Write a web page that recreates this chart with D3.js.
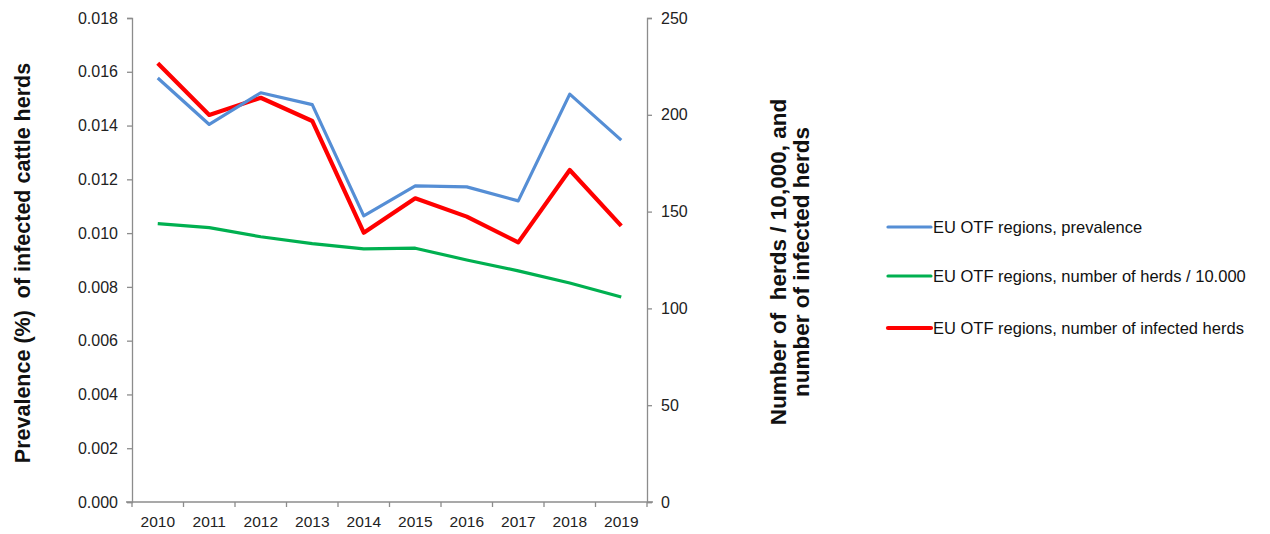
<!DOCTYPE html>
<html><head><meta charset="utf-8">
<script src="https://cdn.jsdelivr.net/npm/d3@7"></script>
<style>body{margin:0;background:#fff;font-family:"Liberation Sans",Arial,sans-serif;} text{white-space:pre;}</style>
</head><body><svg id="c" width="1270" height="534"></svg>
<script>
const years = ["2010","2011","2012","2013","2014","2015","2016","2017","2018","2019"];
const prevalence = [0.01577,0.01404,0.01522,0.01478,0.01064,0.01176,0.01172,0.01120,0.01517,0.01346];
const herds10k = [143.8,141.7,137.0,133.5,130.7,131.1,125.0,119.4,113.1,105.9];
const infectedHerds = [226.6,199.9,208.8,196.8,139.1,156.9,147.4,134.1,171.5,142.6];
const leftTicks = [0,0.002,0.004,0.006,0.008,0.010,0.012,0.014,0.016,0.018];
const rightTicks = [0,50,100,150,200,250];
const legendLabels = ["EU OTF regions, prevalence","EU OTF regions, number of herds / 10.000","EU OTF regions, number of infected herds"];

const svg = d3.select("#c");
const L=132, R=647, T=18, B=502;
const axisCol="#8c8c8c";
const x = d3.scaleBand().domain(years).range([L,R]);
const yL = d3.scaleLinear().domain([0,0.018]).range([B,T]);
const yR = d3.scaleLinear().domain([0,250]).range([B,T]);
const cx = d => x(d)+x.bandwidth()/2;

function style(g, fs){
  g.selectAll("path.domain").attr("stroke",axisCol).attr("stroke-width",1.3);
  g.selectAll(".tick line").attr("stroke",axisCol).attr("stroke-width",1.3);
  g.selectAll(".tick text").attr("fill","#222").attr("font-size",fs).attr("font-family","Liberation Sans, Arial, sans-serif");
}
const gl = svg.append("g").attr("transform",`translate(${L},0)`)
  .call(d3.axisLeft(yL).tickValues(leftTicks).tickFormat(d3.format(".3f")).tickSizeOuter(0).tickSize(5).tickPadding(9));
style(gl,16);
const gr = svg.append("g").attr("transform",`translate(${R},0)`)
  .call(d3.axisRight(yR).tickValues(rightTicks).tickSizeOuter(0).tickSize(5).tickPadding(9));
style(gr,16);
const gx = svg.append("g").attr("transform",`translate(0,${B})`)
  .call(d3.axisBottom(x).tickSize(0).tickPadding(14).tickSizeOuter(0));
style(gx,15.5);
gx.select("path.domain").attr("d",`M${L-6},0H${R+6}`);
const bounds = years.map(y=>x(y)).concat([R]);
gx.selectAll("line.bt").data(bounds).enter().append("line").attr("class","bt")
  .attr("x1",d=>d).attr("x2",d=>d).attr("y1",0).attr("y2",5).attr("stroke",axisCol).attr("stroke-width",1.3);

const lineL = d3.line().x((d,i)=>cx(years[i])).y(d=>yL(d));
const lineR = d3.line().x((d,i)=>cx(years[i])).y(d=>yR(d));
svg.append("path").datum(herds10k).attr("d",lineR).attr("fill","none").attr("stroke","#00B050").attr("stroke-width",3.2).attr("stroke-linejoin","round");
svg.append("path").datum(infectedHerds).attr("d",lineR).attr("fill","none").attr("stroke","#FF0000").attr("stroke-width",4.2).attr("stroke-linejoin","round");
svg.append("path").datum(prevalence).attr("d",lineL).attr("fill","none").attr("stroke","#558ED5").attr("stroke-width",3.2).attr("stroke-linejoin","round");

svg.append("text").attr("transform","translate(30,263) rotate(-90)").attr("text-anchor","middle")
  .attr("font-size",21.5).attr("font-weight","bold").attr("fill","#111").text("Prevalence (%)  of infected cattle herds");
const rt = svg.append("text").attr("transform","translate(786,262) rotate(-90)").attr("text-anchor","middle")
  .attr("font-size",22.5).attr("font-weight","bold").attr("fill","#111");
rt.append("tspan").attr("x",0).attr("dy",0).text("Number of  herds / 10,000, and");
rt.append("tspan").attr("x",0).attr("dy",23).text("number of infected herds");

const legCols = ["#558ED5","#00B050","#FF0000"];
const legW = [3.2,3.2,4.2];
const legY = [227,276,328];
legendLabels.forEach((t,i)=>{
  svg.append("line").attr("x1",888).attr("x2",931).attr("y1",legY[i]).attr("y2",legY[i]).attr("stroke",legCols[i]).attr("stroke-width",legW[i]).attr("stroke-linecap","round");
  svg.append("text").attr("x",933).attr("y",legY[i]+5.5).attr("font-size",16.5).attr("fill","#111").text(t);
});
</script></body></html>
